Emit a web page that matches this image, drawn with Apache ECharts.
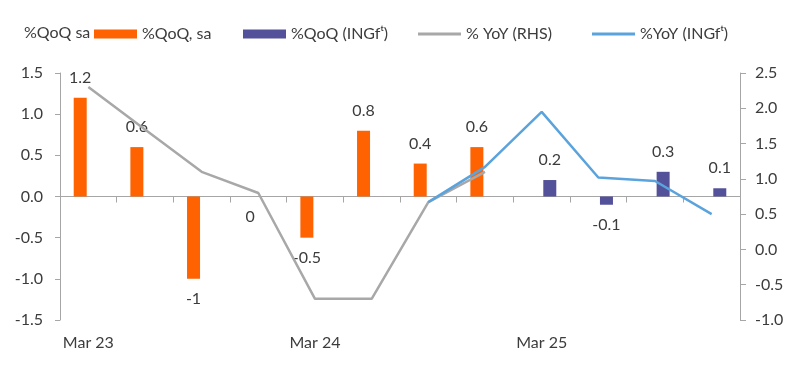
<!DOCTYPE html>
<html><head><meta charset="utf-8">
<script src="https://cdn.jsdelivr.net/npm/echarts@6/dist/echarts.min.js"></script>
<style>html,body{margin:0;padding:0;background:#fff}#c{width:800px;height:368px}</style>
</head><body><div id="c"></div>
<script>
const categories = ['Mar 23','Jun 23','Sep 23','Dec 23','Mar 24','Jun 24','Sep 24','Dec 24','Mar 25','Jun 25','Sep 25','Dec 25'];
const qoqSa   = [1.2, 0.6, -1, 0, -0.5, 0.8, 0.4, 0.6, '-', '-', '-', '-'];
const qoqIng  = ['-', '-', '-', '-', '-', '-', '-', '-', 0.2, -0.1, 0.3, 0.1];
const yoyRhs  = [2.3, 1.7, 1.1, 0.8, -0.7, -0.7, 0.67, 1.1, '-', '-', '-', '-'];
const yoyIng  = ['-', '-', '-', '-', '-', '-', 0.67, 1.17, 1.95, 1.02, 0.97, 0.5];
const leftTicks = {min: -1.5, max: 1.5, interval: 0.5};
const rightTicks = {min: -1, max: 2.5, interval: 0.5};
const names = ['%QoQ, sa', '%QoQ (INGf\u1D57)', '% YoY (RHS)', '%YoY (INGf\u1D57)'];

const FONT = 'Lato';
const TXT = '#3c3c3c';
const AX = '#a6a6a6';
const chart = echarts.init(document.getElementById('c'));
const lbl = {show: true, position: 'outside', distance: 12, fontSize: 16, fontFamily: FONT, color: TXT};
const legTxt = {fontSize: 16, color: TXT, fontFamily: FONT};
function leg(name, left, h) {
  return {left: left, top: 21, itemWidth: 43, itemHeight: h, icon: 'rect',
          textStyle: legTxt, data: [name]};
}
chart.setOption({
  animation: false,
  textStyle: {fontFamily: FONT},
  title: {text: '%QoQ sa', left: 19, top: 20, textStyle: {fontSize: 16, fontWeight: 'normal', color: TXT, fontFamily: FONT}},
  legend: [leg(names[0], 89, 9), leg(names[1], 238, 9), leg(names[2], 413, 3), leg(names[3], 587, 3)],
  grid: {left: 60, right: 60, top: 73, bottom: 48},
  xAxis: [
    {type: 'category', data: categories, boundaryGap: true,
     axisLine: {onZero: true, lineStyle: {color: AX, width: 1}},
     axisTick: {show: true, length: 6, lineStyle: {color: AX}},
     axisLabel: {show: false}},
    {type: 'category', data: categories, boundaryGap: true, position: 'bottom',
     axisLine: {show: false}, axisTick: {show: false},
     axisLabel: {interval: 3, margin: 15, fontSize: 16, color: TXT, fontFamily: FONT}}
  ],
  yAxis: [
    {type: 'value', min: leftTicks.min, max: leftTicks.max, interval: leftTicks.interval,
     axisLine: {show: true, onZero: false, lineStyle: {color: AX}},
     axisTick: {show: true, length: 5, lineStyle: {color: AX}},
     splitLine: {show: false},
     axisLabel: {fontSize: 16, color: TXT, fontFamily: FONT, margin: 17, formatter: v => v.toFixed(1)}},
    {type: 'value', min: rightTicks.min, max: rightTicks.max, interval: rightTicks.interval,
     axisLine: {show: true, onZero: false, lineStyle: {color: AX}},
     axisTick: {show: true, length: 6, lineStyle: {color: AX}},
     splitLine: {show: false},
     axisLabel: {fontSize: 16, color: TXT, fontFamily: FONT, margin: 15, formatter: v => v.toFixed(1)}}
  ],
  series: [
    {name: names[0], type: 'bar', data: qoqSa, barWidth: 13, barGap: '25%',
     itemStyle: {color: '#ff6200'}, label: lbl},
    {name: names[1], type: 'bar', data: qoqIng, barWidth: 13,
     itemStyle: {color: '#525199'}, label: lbl},
    {name: names[2], type: 'line', yAxisIndex: 1, data: yoyRhs, symbol: 'none',
     lineStyle: {color: '#a8a8a8', width: 2.5}, itemStyle: {color: '#a8a8a8'}},
    {name: names[3], type: 'line', yAxisIndex: 1, data: yoyIng, symbol: 'none',
     lineStyle: {color: '#5ba3dc', width: 2.5}, itemStyle: {color: '#5ba3dc'}}
  ]
});
</script></body></html>
